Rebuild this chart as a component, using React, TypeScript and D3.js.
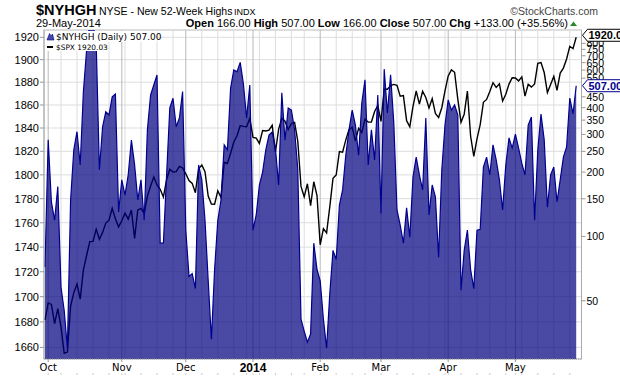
import React from "react";
import * as d3 from "d3";

// month labels shown on the x axis (first trading day of each month)
const monthLabels = ["Oct", "Nov", "Dec", "2014", "Feb", "Mar", "Apr", "May"];
const holidays = ["2013-11-28", "2013-12-25", "2014-01-01", "2014-01-20", "2014-02-17", "2014-04-18", "2014-05-26"];

// $SPX daily close, Sep 30 2013 .. May 29 2014
const spx = [
  1681.55,
  // Oct
  1695.0, 1693.87, 1678.66, 1690.5, 1676.12, 1655.45, 1656.4, 1692.56, 1703.2, 1710.14, 1698.06, 1721.54,
  1733.15, 1744.5, 1744.66, 1754.67, 1746.38, 1752.07, 1759.77, 1762.11, 1771.95, 1763.31, 1756.54,
  // Nov
  1761.64, 1767.93, 1762.97, 1770.49, 1747.15, 1770.61, 1771.89, 1767.69, 1782.0, 1790.62, 1798.18,
  1791.53, 1787.87, 1781.37, 1795.85, 1804.76, 1802.48, 1802.75, 1807.23, 1805.81,
  // Dec
  1800.9, 1795.15, 1792.81, 1785.03, 1805.09, 1808.37, 1802.62, 1782.22, 1775.5, 1775.32, 1786.54,
  1781.0, 1810.65, 1809.6, 1818.32, 1827.99, 1833.32, 1842.02, 1841.4, 1841.07, 1848.36,
  // Jan
  1831.98, 1831.37, 1826.77, 1837.88, 1837.49, 1838.13, 1842.37, 1819.2, 1838.88, 1848.38, 1845.89,
  1838.7, 1843.8, 1844.86, 1828.46, 1790.29, 1781.56, 1792.5, 1774.2, 1794.19, 1782.59,
  // Feb
  1741.89, 1755.2, 1751.64, 1773.43, 1797.02, 1799.84, 1819.75, 1819.26, 1829.83, 1838.63, 1840.76,
  1828.75, 1839.78, 1836.25, 1847.61, 1845.12, 1845.16, 1854.29, 1859.45,
  // Mar
  1845.73, 1873.91, 1873.81, 1877.03, 1878.04, 1877.17, 1867.63, 1868.2, 1846.34, 1841.13, 1858.83,
  1872.25, 1860.77, 1872.01, 1866.52, 1857.44, 1865.62, 1852.56, 1849.04, 1857.62, 1872.34,
  // Apr
  1885.52, 1890.9, 1888.77, 1865.09, 1845.04, 1851.96, 1872.18, 1833.08, 1815.69, 1830.61, 1842.98,
  1862.31, 1864.85, 1871.89, 1879.55, 1875.39, 1878.61, 1863.4, 1869.43, 1878.33, 1883.95,
  // May
  1883.68, 1881.14, 1884.66, 1867.72, 1878.21, 1875.63, 1878.48, 1896.65, 1897.45, 1888.53, 1870.85,
  1877.86, 1885.08, 1872.83, 1888.03, 1892.49, 1900.53, 1911.91, 1909.78, 1920.03,
];

// $NYHGH new 52-week highs, same days
const nyhgh = [
  72,
  // Oct
  283, 145, 119, 171, 58, 45, 30, 148, 254, 309, 216, 476, 745, 1000, 980, 801, 205, 326, 383, 370, 450, 464, 130,
  // Nov
  184, 156, 194, 282, 216, 148, 184, 119, 315, 459, 511, 569, 93, 93, 194, 399, 443, 326, 358, 476,
  // Dec
  107, 65, 67, 57, 216, 184, 119, 62, 33, 70, 119, 148, 268, 254, 494, 601, 589, 652, 517, 358, 511,
  // Jan
  107, 126, 174, 200, 254, 298, 308, 259, 174, 470, 282, 399, 390, 315, 205, 41, 36, 32, 35, 93, 70,
  // Feb
  62, 41, 30, 54, 86, 78, 140, 165, 240, 315, 390, 332, 240, 421, 540, 216, 315, 228, 459,
  // Mar
  128, 606, 378, 570, 339, 133, 113, 93, 136, 99, 190, 235, 194, 165, 358, 126, 174, 153, 80, 205, 332,
  // Apr
  435, 390, 412, 370, 56, 86, 107, 70, 57, 107, 108, 211, 235, 194, 268, 228, 184, 133, 216, 289, 259,
  // May
  301, 259, 220, 194, 332, 362, 119, 254, 374, 283, 137, 194, 211, 145, 184, 235, 262, 444, 374, 507,
];

const leftTicks = [1660, 1680, 1700, 1720, 1740, 1760, 1780, 1800, 1820, 1840, 1860, 1880, 1900, 1920];
const rightTicks = [50, 100, 150, 200, 250, 300, 350, 400, 450, 550, 600, 650, 700, 750, 800];

const W = 620;
const H = 376;
const L = 44, R = 581.5, T = 30, B = 359;
const FONT = "'Liberation Sans', Arial, sans-serif";
const VFONT = "'DejaVu Sans', Verdana, sans-serif";

function tradingDays(n: number) {
  const fmt = d3.timeFormat("%Y-%m-%d");
  const out: Date[] = [];
  let d = new Date(2013, 8, 30);
  while (out.length < n) {
    const wd = d.getDay();
    if (wd !== 0 && wd !== 6 && holidays.indexOf(fmt(d)) < 0) out.push(d);
    d = d3.timeDay.offset(d, 1);
  }
  return out;
}

export default function App() {
  const n = spx.length;
  const days = tradingDays(n);

  const x = d3.scaleLinear().domain([0, n - 1]).range([45, 576.2]);
  const yL = d3.scaleLog().domain([1651, 1926.6]).range([B, T]);
  const yR = d3.scaleLog().domain([26.7, 924]).range([B, T]);

  const monthIdx: number[] = [];
  const weekIdx: number[] = [];
  days.forEach((d, i) => {
    if (i === 0) return;
    if (d.getMonth() !== days[i - 1].getMonth()) monthIdx.push(i);
    else if (d.getDay() < days[i - 1].getDay()) weekIdx.push(i);
  });

  const area = d3.area<number>().x((_, i) => x(i)).y0(B).y1((v) => yR(v));
  const topLine = d3.line<number>().x((_, i) => x(i)).y((v) => yR(v));
  const spxLine = d3.line<number>().x((_, i) => x(i)).y((v) => yL(v));

  const lastS = spx[n - 1];
  const lastN = nyhgh[n - 1];
  const ys = yL(lastS);
  const yn = yR(lastN);

  return (
    <svg width={W} height={H} style={{ position: "fixed", left: 0, top: 0, background: "#fff" }} fontFamily={FONT}>
      <defs>
        <clipPath id="plot">
          <rect x={L} y={T} width={R - L} height={B - T} />
        </clipPath>
      </defs>
      {/* header */}
      <text x={36} y={15} fontSize={14.5} fontWeight="bold">$NYHGH</text>
      <text x={99} y={15} fontSize={10.5}>NYSE - New 52-Week Highs</text>
      <text x={234} y={15} fontSize={9}>INDX</text>
      <text x={598} y={15} fontSize={10.5} textAnchor="end" fill="#444">©StockCharts.com</text>
      <text x={36} y={27} fontSize={11}>29-May-2014</text>
      <text x={568} y={27} fontSize={11} textAnchor="end">
        <tspan fontWeight="bold">Open</tspan> 166.00 <tspan fontWeight="bold">High</tspan> 507.00{" "}
        <tspan fontWeight="bold">Low</tspan> 166.00 <tspan fontWeight="bold">Close</tspan> 507.00{" "}
        <tspan fontWeight="bold">Chg</tspan> +133.00 (+35.56%)
      </text>
      <path d="M570,26 L573.5,21.5 L577,26 Z" fill="#2a8a2a" />

      {/* grid */}
      <rect x={L} y={T} width={R - L} height={B - T} fill="#fff" stroke="#bbb" />
      {leftTicks.map((t) => (
        <line key={"h" + t} x1={L} x2={R} y1={yL(t)} y2={yL(t)} stroke="#ddd" />
      ))}
      {weekIdx.map((i) => (
        <line key={"w" + i} x1={x(i)} x2={x(i)} y1={T} y2={B} stroke="#ddd" />
      ))}
      {monthIdx.map((i) => (
        <line key={"m" + i} x1={x(i)} x2={x(i)} y1={T} y2={B} stroke="#b8b8b8" />
      ))}

      <g clipPath="url(#plot)">
        <path d={spxLine(spx) || ""} fill="none" stroke="#000" strokeWidth={1.4} />
        <path d={area(nyhgh) || ""} fill="#000080" fillOpacity={0.71} />
        <path d={topLine(nyhgh) || ""} fill="none" stroke="#000090" strokeWidth={1.2} />
      </g>
      <line x1={L} x2={R} y1={B} y2={B} stroke="#999" strokeDasharray="1,1" />
      <line x1={L} x2={L} y1={T} y2={B} stroke="#aaa" />
      <line x1={R} x2={R} y1={T} y2={B} stroke="#aaa" />

      {/* legend */}
      <rect x={45} y={31} width={112} height={11} fill="#fff" />
      <rect x={45} y={42} width={54} height={9} fill="#fff" />
      <path d="M47,40 L49.5,33.5 L51,36 L52.5,34 L54,40 Z" fill="#4848a8" stroke="#000090" strokeWidth={0.6} />
      <text x={56} y={40} fontSize={9} fontFamily={VFONT}>$NYHGH (Daily) 507.00</text>
      <line x1={47} x2={53} y1={47} y2={47} stroke="#000" strokeWidth={2} />
      <text x={56} y={50} fontSize={7.4} fontFamily={VFONT}>$SPX 1920.03</text>

      {/* left axis */}
      {leftTicks.map((t) => (
        <g key={"l" + t}>
          <line x1={L - 4} x2={L} y1={yL(t)} y2={yL(t)} stroke="#999" />
          <text x={L - 5} y={yL(t) + 4} fontSize={11} textAnchor="end">{t}</text>
        </g>
      ))}

      {/* right axis */}
      {rightTicks.map((t) => (
        <g key={"r" + t}>
          <line x1={R} x2={R + 4} y1={yR(t)} y2={yR(t)} stroke="#999" />
          <text x={R + 5} y={yR(t) + 4} fontSize={10.5}>{t}</text>
        </g>
      ))}
      <path
        d={`M${R + 1},${yn} L${R + 6},${yn - 6} L${W + 2},${yn - 6} L${W + 2},${yn + 6} L${R + 6},${yn + 6} Z`}
        fill="#fff" stroke="#000090"
      />
      <text x={R + 7} y={yn + 4} fontSize={11} fontWeight="bold" fill="#000090">{lastN.toFixed(2)}</text>
      <path
        d={`M${R + 1},${ys - 2} L${R + 6},${ys - 8} L${W + 2},${ys - 8} L${W + 2},${ys + 4} L${R + 6},${ys + 4} Z`}
        fill="#fff" stroke="#000"
      />
      <text x={R + 7} y={ys + 2} fontSize={11} fontWeight="bold">{lastS.toFixed(2)}</text>

      {/* x axis */}
      {weekIdx.concat(monthIdx).map((i) => (
        <line key={"d" + i} x1={x(i)} x2={x(i)} y1={373} y2={375} stroke="#ccc" />
      ))}
      {monthIdx.map((i, k) => {
        const yr = monthLabels[k] === "2014";
        return (
          <g key={"x" + i}>
            <line x1={x(i)} x2={x(i)} y1={B} y2={B + 3} stroke="#999" />
            <text
              x={x(i)}
              y={yr ? 372 : 371}
              fontSize={yr ? 12 : 10}
              textAnchor="middle"
              fontWeight={yr ? "bold" : "normal"}
              fontFamily={yr ? FONT : VFONT}
            >
              {monthLabels[k]}
            </text>
          </g>
        );
      })}
    </svg>
  );
}
